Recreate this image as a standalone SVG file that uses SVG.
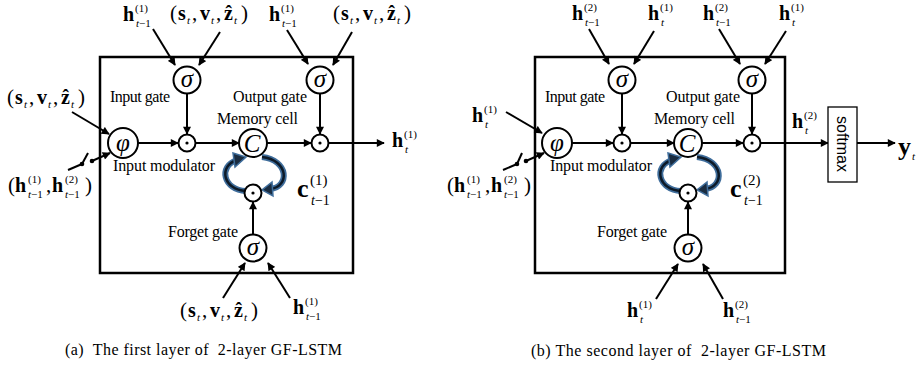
<svg xmlns="http://www.w3.org/2000/svg" width="918" height="366" viewBox="0 0 918 366">
<defs>
<marker id="ah" viewBox="0 0 10 10" refX="9" refY="5" markerWidth="9" markerHeight="8" markerUnits="userSpaceOnUse" orient="auto">
<path d="M0,0 L10,5 L0,10 z" fill="#000"/>
</marker>
<style>
.bx{fill:none;stroke:#000;stroke-width:2.5}
.nd{fill:#fff;stroke:#000;stroke-width:2}
.ln{stroke:#000;stroke-width:2;fill:none;marker-end:url(#ah)}
.pl{stroke:#000;stroke-width:2;fill:none}
.lbl{font-family:"Liberation Serif",serif;font-size:16px;fill:#000}
.cap{font-family:"Liberation Serif",serif;font-size:16px;fill:#000;white-space:pre}
.m{font-family:"Liberation Serif","DejaVu Serif",serif;fill:#000}
.hb{font-weight:bold;font-size:20px}
.pa{font-size:21px}
.sc{font-size:11px}
.it{font-style:italic}
.sym{font-family:"Liberation Serif","DejaVu Serif",serif;font-style:italic;font-size:25px;text-anchor:middle}
.dot{fill:#000}
.bl1{fill:none;stroke:#3f6d9b;stroke-width:6}
.bl2{fill:none;stroke:#0d1a28;stroke-width:2.5}
.bh{fill:#1a2c40;stroke:#3f6d9b;stroke-width:1.5}
.sm{font-family:"Liberation Sans",sans-serif;font-size:16px;fill:#000}
</style>
</defs>

<!-- ===== Left diagram ===== -->
<g id="boxA"><rect class="bx" x="100" y="57" width="253" height="216"/></g>

<g id="connectorsA">
<line class="ln" x1="153" y1="29" x2="175" y2="65"/>
<line class="ln" x1="220" y1="32" x2="199" y2="65"/>
<line class="ln" x1="287" y1="30" x2="308" y2="64"/>
<line class="ln" x1="352" y1="32" x2="333" y2="65"/>
<line class="ln" x1="187" y1="94" x2="187" y2="134"/>
<line class="ln" x1="320" y1="94" x2="320" y2="134"/>
<line class="ln" x1="72" y1="112" x2="109" y2="134"/>
<line class="pl" x1="68" y1="170" x2="82" y2="164"/>
<line class="pl" x1="82" y1="164" x2="88" y2="153"/>
<circle class="dot" cx="82" cy="164" r="2.3"/>
<circle class="dot" cx="92" cy="161" r="2.3"/>
<line class="ln" x1="92" y1="161" x2="110" y2="153"/>
<line class="ln" x1="138" y1="143" x2="178" y2="143"/>
<line class="ln" x1="196" y1="143" x2="239" y2="143"/>
<line class="ln" x1="267" y1="143" x2="311" y2="143"/>
<line class="ln" x1="329" y1="143" x2="384" y2="143"/>
<line class="ln" x1="253" y1="234" x2="253" y2="202"/>
<line class="ln" x1="223" y1="298" x2="245" y2="263"/>
<line class="ln" x1="290" y1="298" x2="268" y2="263"/>
<path class="bl1" d="M246,191 C223,190 218,166 237,160"/>
<path class="bl2" d="M246,191 C223,190 218,166 237,160"/>
<polygon class="bh" points="233,153 246,157 235,167"/>
<path class="bl1" d="M262,157 C289,160 290,187 270,189"/>
<path class="bl2" d="M262,157 C289,160 290,187 270,189"/>
<polygon class="bh" points="272,182 262,190 273,196"/>
</g>

<g id="inGateA"><circle class="nd" cx="187" cy="80" r="13.5"/><text class="sym" x="187" y="87">σ</text></g>
<g id="outGateA"><circle class="nd" cx="320" cy="80" r="13.5"/><text class="sym" x="320" y="87">σ</text></g>
<g id="modA"><circle class="nd" cx="123" cy="143" r="15"/><text class="sym" x="123" y="151">φ</text></g>
<g id="inMulA"><circle class="nd" cx="187" cy="143" r="8.5"/><circle class="dot" cx="187" cy="143" r="1.6"/></g>
<g id="cellA"><circle class="nd" cx="253" cy="143" r="14"/><text class="sym" x="252" y="152">C</text></g>
<g id="outMulA"><circle class="nd" cx="320" cy="143" r="8.5"/><circle class="dot" cx="320" cy="143" r="1.6"/></g>
<g id="fMulA"><circle class="nd" cx="253" cy="193" r="8.5"/><circle class="dot" cx="253" cy="193" r="1.6"/></g>
<g id="fGateA"><circle class="nd" cx="253" cy="248" r="13.5"/><text class="sym" x="253" y="255">σ</text></g>

<g id="labelsA">
<text class="lbl" x="110" y="102" textLength="60">Input gate</text>
<text class="lbl" x="233" y="102" textLength="74">Output gate</text>
<text class="lbl" x="217" y="124" textLength="81">Memory cell</text>
<text class="lbl" x="113" y="171" textLength="102">Input modulator</text>
<text class="lbl" x="168" y="237" textLength="70">Forget gate</text>
<text class="m"><tspan class="hb" x="123" y="21">h</tspan><tspan class="sc" x="135" y="12">(1)</tspan><tspan class="sc" x="136" y="27"><tspan class="it">t</tspan>−1</tspan></text>
<text class="m"><tspan class="hb" x="269" y="21">h</tspan><tspan class="sc" x="281" y="12">(1)</tspan><tspan class="sc" x="282" y="27"><tspan class="it">t</tspan>−1</tspan></text>
<text class="m"><tspan class="pa" x="170" y="20">(</tspan><tspan class="hb" x="178" y="20">s</tspan><tspan class="sc it" x="187" y="24">t</tspan><tspan class="pa" x="192" y="20">,</tspan><tspan class="hb" x="200" y="20">v</tspan><tspan class="sc it" x="211" y="24">t</tspan><tspan class="pa" x="216" y="20">,</tspan><tspan class="hb" x="224" y="20">ẑ</tspan><tspan class="sc it" x="234" y="24">t</tspan><tspan class="pa" x="241" y="20">)</tspan></text>
<text class="m"><tspan class="pa" x="333" y="20">(</tspan><tspan class="hb" x="341" y="20">s</tspan><tspan class="sc it" x="350" y="24">t</tspan><tspan class="pa" x="355" y="20">,</tspan><tspan class="hb" x="363" y="20">v</tspan><tspan class="sc it" x="374" y="24">t</tspan><tspan class="pa" x="379" y="20">,</tspan><tspan class="hb" x="387" y="20">ẑ</tspan><tspan class="sc it" x="397" y="24">t</tspan><tspan class="pa" x="404" y="20">)</tspan></text>
<text class="m"><tspan class="pa" x="7" y="104">(</tspan><tspan class="hb" x="15" y="104">s</tspan><tspan class="sc it" x="24" y="108">t</tspan><tspan class="pa" x="29" y="104">,</tspan><tspan class="hb" x="37" y="104">v</tspan><tspan class="sc it" x="48" y="108">t</tspan><tspan class="pa" x="53" y="104">,</tspan><tspan class="hb" x="61" y="104">ẑ</tspan><tspan class="sc it" x="71" y="108">t</tspan><tspan class="pa" x="78" y="104">)</tspan></text>
<text class="m"><tspan class="pa" x="180" y="317">(</tspan><tspan class="hb" x="188" y="317">s</tspan><tspan class="sc it" x="197" y="321">t</tspan><tspan class="pa" x="202" y="317">,</tspan><tspan class="hb" x="210" y="317">v</tspan><tspan class="sc it" x="221" y="321">t</tspan><tspan class="pa" x="226" y="317">,</tspan><tspan class="hb" x="234" y="317">ẑ</tspan><tspan class="sc it" x="244" y="321">t</tspan><tspan class="pa" x="251" y="317">)</tspan></text>
<text class="m"><tspan class="pa" x="8" y="192">(</tspan><tspan class="hb" x="15" y="192">h</tspan><tspan class="sc" x="28" y="183">(1)</tspan><tspan class="sc" x="28" y="198"><tspan class="it">t</tspan>−1</tspan><tspan class="pa" x="46" y="192">,</tspan><tspan class="hb" x="52" y="192">h</tspan><tspan class="sc" x="65" y="183">(2)</tspan><tspan class="sc" x="65" y="198"><tspan class="it">t</tspan>−1</tspan><tspan class="pa" x="85" y="192">)</tspan></text>
<text class="m"><tspan class="hb" x="392" y="147">h</tspan><tspan class="sc" x="404" y="138">(1)</tspan><tspan class="sc it" x="405" y="153">t</tspan></text>
<text class="m"><tspan class="hb" style="font-size:26px" x="297" y="197">c</tspan><tspan style="font-size:15px" x="310" y="185">(1)</tspan><tspan style="font-size:14px" x="311" y="205"><tspan class="it">t</tspan>−1</tspan></text>
<text class="m"><tspan class="hb" x="293" y="314">h</tspan><tspan class="sc" x="305" y="305">(1)</tspan><tspan class="sc" x="306" y="320"><tspan class="it">t</tspan>−1</tspan></text>
<text class="cap" x="65" y="355" textLength="277">(a)  The first layer of  2-layer GF-LSTM</text>
</g>

<!-- ===== Right diagram ===== -->
<g id="boxB"><rect class="bx" x="535" y="57" width="250" height="216"/></g>

<g id="connectorsB">
<line class="ln" x1="589" y1="29" x2="609" y2="64"/>
<line class="ln" x1="654" y1="31" x2="634" y2="64"/>
<line class="ln" x1="719" y1="29" x2="740" y2="64"/>
<line class="ln" x1="786" y1="31" x2="765" y2="64"/>
<line class="ln" x1="622" y1="94" x2="622" y2="134"/>
<line class="ln" x1="752" y1="94" x2="752" y2="134"/>
<line class="ln" x1="506" y1="112" x2="542" y2="133"/>
<line class="pl" x1="503" y1="170" x2="517" y2="164"/>
<line class="pl" x1="517" y1="164" x2="522" y2="153"/>
<circle class="dot" cx="517" cy="164" r="2.3"/>
<circle class="dot" cx="526" cy="161" r="2.3"/>
<line class="ln" x1="526" y1="161" x2="544" y2="153"/>
<line class="ln" x1="572" y1="143" x2="613" y2="143"/>
<line class="ln" x1="631" y1="143" x2="674" y2="143"/>
<line class="ln" x1="702" y1="143" x2="743" y2="143"/>
<line class="ln" x1="761" y1="143" x2="828" y2="143"/>
<line class="ln" x1="857" y1="143" x2="895" y2="143"/>
<line class="ln" x1="688" y1="234" x2="688" y2="202"/>
<line class="ln" x1="656" y1="299" x2="678" y2="264"/>
<line class="ln" x1="723" y1="299" x2="703" y2="264"/>
<path class="bl1" d="M681,191 C658,190 653,166 672,160"/>
<path class="bl2" d="M681,191 C658,190 653,166 672,160"/>
<polygon class="bh" points="668,153 681,157 670,167"/>
<path class="bl1" d="M697,157 C724,160 725,187 705,189"/>
<path class="bl2" d="M697,157 C724,160 725,187 705,189"/>
<polygon class="bh" points="707,182 697,190 708,196"/>
</g>

<g id="inGateB"><circle class="nd" cx="622" cy="80" r="13.5"/><text class="sym" x="622" y="87">σ</text></g>
<g id="outGateB"><circle class="nd" cx="752" cy="80" r="13.5"/><text class="sym" x="752" y="87">σ</text></g>
<g id="modB"><circle class="nd" cx="557" cy="143" r="15"/><text class="sym" x="557" y="151">φ</text></g>
<g id="inMulB"><circle class="nd" cx="622" cy="143" r="8.5"/><circle class="dot" cx="622" cy="143" r="1.6"/></g>
<g id="cellB"><circle class="nd" cx="688" cy="143" r="14"/><text class="sym" x="687" y="152">C</text></g>
<g id="outMulB"><circle class="nd" cx="752" cy="143" r="8.5"/><circle class="dot" cx="752" cy="143" r="1.6"/></g>
<g id="fMulB"><circle class="nd" cx="688" cy="193" r="8.5"/><circle class="dot" cx="688" cy="193" r="1.6"/></g>
<g id="fGateB"><circle class="nd" cx="688" cy="248" r="13.5"/><text class="sym" x="688" y="255">σ</text></g>
<g id="softmax"><rect x="828" y="107" width="29" height="75" fill="#fff" stroke="#000" stroke-width="1.3"/><text class="sm" transform="translate(837,144) rotate(90)" text-anchor="middle">softmax</text></g>

<g id="labelsB">
<text class="lbl" x="545" y="102" textLength="60">Input gate</text>
<text class="lbl" x="666" y="102" textLength="74">Output gate</text>
<text class="lbl" x="654" y="124" textLength="81">Memory cell</text>
<text class="lbl" x="550" y="171" textLength="102">Input modulator</text>
<text class="lbl" x="597" y="237" textLength="70">Forget gate</text>
<text class="m"><tspan class="hb" x="572" y="20">h</tspan><tspan class="sc" x="584" y="11">(2)</tspan><tspan class="sc" x="585" y="26"><tspan class="it">t</tspan>−1</tspan></text>
<text class="m"><tspan class="hb" x="648" y="20">h</tspan><tspan class="sc" x="660" y="11">(1)</tspan><tspan class="sc it" x="661" y="26">t</tspan></text>
<text class="m"><tspan class="hb" x="703" y="20">h</tspan><tspan class="sc" x="715" y="11">(2)</tspan><tspan class="sc" x="716" y="26"><tspan class="it">t</tspan>−1</tspan></text>
<text class="m"><tspan class="hb" x="779" y="20">h</tspan><tspan class="sc" x="791" y="11">(1)</tspan><tspan class="sc it" x="792" y="26">t</tspan></text>
<text class="m"><tspan class="hb" x="472" y="122">h</tspan><tspan class="sc" x="484" y="113">(1)</tspan><tspan class="sc it" x="485" y="128">t</tspan></text>
<text class="m"><tspan class="pa" x="447" y="192">(</tspan><tspan class="hb" x="454" y="192">h</tspan><tspan class="sc" x="467" y="183">(1)</tspan><tspan class="sc" x="467" y="198"><tspan class="it">t</tspan>−1</tspan><tspan class="pa" x="485" y="192">,</tspan><tspan class="hb" x="491" y="192">h</tspan><tspan class="sc" x="504" y="183">(2)</tspan><tspan class="sc" x="504" y="198"><tspan class="it">t</tspan>−1</tspan><tspan class="pa" x="524" y="192">)</tspan></text>
<text class="m"><tspan class="hb" x="792" y="128">h</tspan><tspan class="sc" x="804" y="119">(2)</tspan><tspan class="sc it" x="805" y="134">t</tspan></text>
<text class="m"><tspan class="hb" style="font-size:26px" x="730" y="197">c</tspan><tspan style="font-size:15px" x="743" y="185">(2)</tspan><tspan style="font-size:14px" x="744" y="205"><tspan class="it">t</tspan>−1</tspan></text>
<text class="m"><tspan class="hb" style="font-size:26px" x="898" y="155">y</tspan><tspan class="sc it" x="912" y="160">t</tspan></text>
<text class="m"><tspan class="hb" x="627" y="317">h</tspan><tspan class="sc" x="639" y="308">(1)</tspan><tspan class="sc it" x="640" y="323">t</tspan></text>
<text class="m"><tspan class="hb" x="723" y="317">h</tspan><tspan class="sc" x="735" y="308">(2)</tspan><tspan class="sc" x="736" y="323"><tspan class="it">t</tspan>−1</tspan></text>
<text class="cap" x="531" y="356" textLength="295">(b) The second layer of  2-layer GF-LSTM</text>
</g>
</svg>
